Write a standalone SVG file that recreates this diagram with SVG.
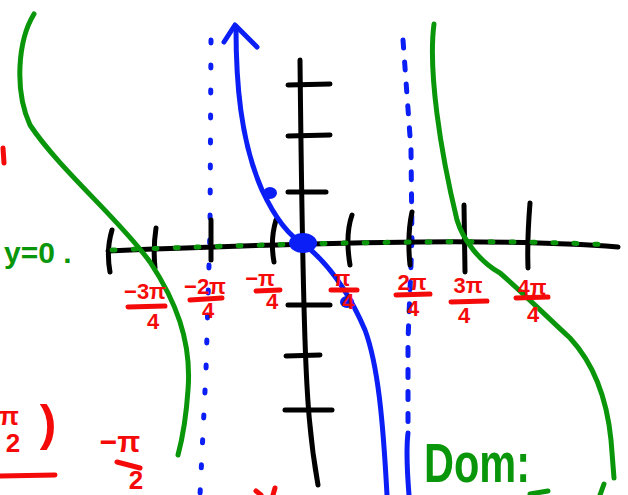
<svg xmlns="http://www.w3.org/2000/svg" width="628" height="495" viewBox="0 0 628 495">
<style>
.s{fill:none;stroke-linecap:round;stroke-linejoin:round}
.k{stroke:#000;stroke-width:5}
.g{stroke:#0a960a;stroke-width:5}
.b{stroke:#0a1ef5;stroke-width:5}
.r{stroke:#f50a0a;stroke-width:5}
.rt{fill:#f50a0a;font-family:"Liberation Sans",Arial,sans-serif;font-weight:bold;text-anchor:middle}
.gt{fill:#0a960a;font-family:"Liberation Sans",Arial,sans-serif;font-weight:bold}
</style>
<rect width="628" height="495" fill="#fff"/>
<g id="connectors">
<path class="s b" stroke-width="6" stroke-dasharray="3 22" d="M211,40 L210,230 L206,370 L200,495"/>
<path class="s b" stroke-dasharray="8 14" d="M403,40 L411,150 L412,240 L408,340 L408,425"/>
<path class="s b" d="M408,433 C406,450 407,470 409,495"/>
<path class="s k" d="M108,251 Q300,243 420,242 T618,247"/>
<path class="s k" d="M300,60 C301,150 302,250 305,340 C307,400 310,440 318,485"/>
<path class="s k" d="M112,230 Q106,250 110,272 M156,228 Q153,248 155,268 M211,220 L211,260 M276,220 Q270,240 274,262 M352,215 Q345,235 350,265 M412,212 Q407,235 410,265 M464,205 L465,272 M530,203 Q527,240 528,268"/>
<path class="s k" d="M288,85 L330,84 M288,136 L330,135 M288,192 L326,192 M288,305 L330,305 M286,356 L320,355 M285,410 L332,410"/>
<path class="s g" stroke-width="6" stroke-dasharray="3 18" d="M112,250 Q300,243 420,242 T612,245"/>
<path class="s g" d="M34,14 C18,40 14,90 30,125 C60,170 120,220 150,262 C175,300 192,340 188,390 C186,420 182,440 178,455"/>
<path class="s g" d="M434,24 C428,70 440,150 457,220 C463,240 480,262 500,273 C520,290 545,315 570,338 C595,365 607,400 611,440 L614,478"/>
<path class="s g" d="M604,484 L600,495 M530,494 L548,491"/>
<path class="s b" d="M236,28 C236,80 240,140 262,190 C275,218 290,237 305,245 C330,265 350,295 365,330 C378,365 383,420 387,495"/>
<path class="s b" d="M224,42 L235,25 L257,47"/>
</g>
<g id="points" fill="#0a1ef5">
<ellipse cx="303" cy="243" rx="14" ry="10"/>
<ellipse cx="270" cy="193" rx="7" ry="6"/>
<ellipse cx="347" cy="302" rx="7" ry="6"/>
</g>
<g id="label-y0"><text class="gt" x="4" y="263" font-size="30">y=0 .</text></g>
<g id="label-m3"><text class="rt" x="145" y="299" font-size="22">−3π</text><path class="s r" d="M128,307 L165,306"/><text class="rt" x="153" y="329" font-size="22">4</text></g>
<g id="label-m2"><text class="rt" x="205" y="294" font-size="22">−2π</text><path class="s r" d="M190,300 L222,298"/><text class="rt" x="208" y="318" font-size="22">4</text></g>
<g id="label-m1"><text class="rt" x="260" y="286" font-size="22">−π</text><path class="s r" d="M256,291 L280,290"/><text class="rt" x="272" y="309" font-size="22">4</text></g>
<g id="label-p1"><text class="rt" x="342" y="286" font-size="22">π</text><path class="s r" d="M331,290 L357,290"/><text class="rt" x="348" y="309" font-size="22">4</text></g>
<g id="label-p2"><text class="rt" x="412" y="290" font-size="22">2π</text><path class="s r" d="M396,295 L430,294"/><text class="rt" x="413" y="316" font-size="22">4</text></g>
<g id="label-p3"><text class="rt" x="468" y="293" font-size="22">3π</text><path class="s r" d="M451,302 L487,301"/><text class="rt" x="464" y="323" font-size="22">4</text></g>
<g id="label-p4"><text class="rt" x="532" y="295" font-size="22">4π</text><path class="s r" d="M516,298 L548,297"/><text class="rt" x="533" y="322" font-size="22">4</text></g>
<g id="label-left"><text class="rt" x="9" y="425" font-size="26">π</text><text class="rt" x="13" y="452" font-size="26">2</text><text class="rt" x="48" y="440" font-size="50">)</text><path class="s r" d="M0,476 L55,475"/></g>
<g id="label-mhalf"><text class="rt" x="120" y="452" font-size="30">−π</text><path class="s r" d="M117,462 L140,468"/><text class="rt" x="136" y="489" font-size="26">2</text></g>
<g id="label-dom"><text class="gt" x="424" y="482" font-size="56" textLength="106" lengthAdjust="spacingAndGlyphs">Dom:</text></g>
<g id="fragments"><path class="s r" d="M3,148 L4,163 M256,491 L261,495 M275,488 L273,495"/></g>
</svg>
